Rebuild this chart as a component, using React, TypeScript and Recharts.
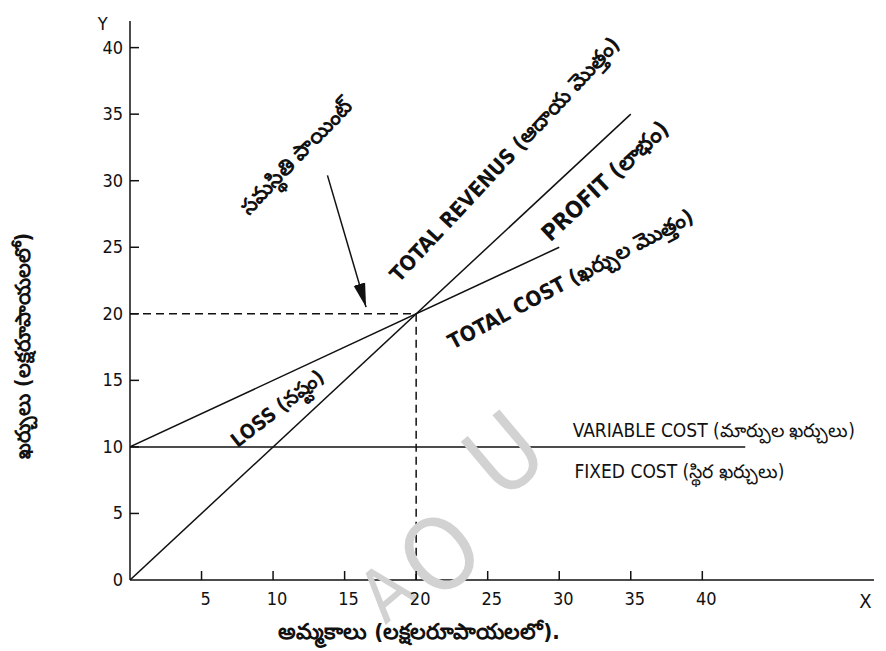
import { ComposedChart, Line, ReferenceDot, XAxis, YAxis } from "recharts";

// break-even chart, values in lakhs of rupees
const xTicks = [5, 10, 15, 20, 25, 30, 35, 40];
const yTicks = [0, 5, 10, 15, 20, 25, 30, 35, 40];

const totalRevenue = [
  { x: 0, y: 0 },
  { x: 35, y: 35 },
];
const totalCost = [
  { x: 0, y: 10 },
  { x: 30, y: 25 },
];
const fixedCost = [
  { x: 0, y: 10 },
  { x: 43, y: 10 },
];
const bepHorizontal = [
  { x: 0, y: 20 },
  { x: 20, y: 20 },
];
const bepVertical = [
  { x: 20, y: 20 },
  { x: 20, y: 0 },
];
const pointer = [
  { x: 13.8, y: 30.4 },
  { x: 16.5, y: 20.5 },
];

const FONT = '"Liberation Sans Narrow", "Arial Narrow", "DejaVu Sans Condensed", sans-serif';
const INK = "#111";

function XTick(props: any) {
  const { x, y, payload } = props;
  return (
    <g>
      <line x1={x} y1={y} x2={x} y2={y - 9} stroke={INK} strokeWidth={1.5} />
      <text x={x + 4} y={y + 25} textAnchor="middle" fontSize={18} fontFamily={FONT} fill={INK}>
        {payload.value}
      </text>
    </g>
  );
}

function YTick(props: any) {
  const { x, y, payload } = props;
  return (
    <g>
      {payload.value !== 0 && <line x1={x} y1={y} x2={x + 9} y2={y} stroke={INK} strokeWidth={1.5} />}
      <text x={x - 7} y={y + 6} textAnchor="end" fontSize={18} fontFamily={FONT} fill={INK}>
        {payload.value}
      </text>
    </g>
  );
}

// text placed at a data coordinate
function note(
  key: string,
  x: number,
  y: number,
  text: string,
  angle: number,
  size: number,
  bold = true,
  fill = INK,
) {
  return (
    <ReferenceDot
      key={key}
      x={x}
      y={y}
      r={0}
      ifOverflow="visible"
      shape={(p: any) => (
        <text
          x={p.cx}
          y={p.cy}
          transform={`rotate(${angle} ${p.cx} ${p.cy})`}
          textAnchor="middle"
          dominantBaseline="central"
          fontSize={size}
          fontWeight={bold ? "bold" : "normal"}
          fontFamily={FONT}
          fill={fill}
        >
          {text}
        </text>
      )}
    />
  );
}

export default function App() {
  return (
    <div style={{ background: "#fff" }}>
      <ComposedChart width={870} height={643} margin={{ top: 13, right: 4, bottom: 41, left: 0 }}>
        <defs>
          <marker
            id="arrowHead"
            viewBox="0 0 20 10"
            refX="20"
            refY="5"
            markerWidth="24"
            markerHeight="13"
            markerUnits="userSpaceOnUse"
            orient="auto"
          >
            <path d="M0,0 L20,5 L0,10 z" fill={INK} />
          </marker>
        </defs>
        <XAxis
          dataKey="x"
          type="number"
          domain={[0, 52]}
          ticks={xTicks}
          allowDataOverflow
          height={30}
          tickSize={0}
          tickMargin={0}
          tickLine={false}
          axisLine={{ stroke: INK, strokeWidth: 1.5 }}
          tick={<XTick />}
        />
        <YAxis
          dataKey="y"
          type="number"
          domain={[0, 42]}
          ticks={yTicks}
          allowDataOverflow
          width={122}
          tickSize={0}
          tickMargin={0}
          tickLine={false}
          axisLine={{ stroke: INK, strokeWidth: 1.5 }}
          tick={<YTick />}
        />
        {note("wm-a", 17.9, -0.9, "A", -40, 72, false, "#d2d2d2")}
        {note("wm-o", 21.7, 1.9, "O", -40, 100, false, "#d2d2d2")}
        {note("wm-u", 26.2, 9.4, "U", -40, 100, false, "#d2d2d2")}
        <Line data={totalRevenue} dataKey="y" stroke={INK} strokeWidth={1.5} dot={false} isAnimationActive={false} />
        <Line data={totalCost} dataKey="y" stroke={INK} strokeWidth={1.5} dot={false} isAnimationActive={false} />
        <Line data={fixedCost} dataKey="y" stroke={INK} strokeWidth={1.5} dot={false} isAnimationActive={false} />
        <Line
          data={bepHorizontal}
          dataKey="y"
          stroke={INK}
          strokeWidth={1.5}
          strokeDasharray="8 5"
          dot={false}
          isAnimationActive={false}
        />
        <Line
          data={bepVertical}
          dataKey="y"
          stroke={INK}
          strokeWidth={1.5}
          strokeDasharray="8 5"
          dot={false}
          isAnimationActive={false}
        />
        <Line
          data={pointer}
          dataKey="y"
          stroke={INK}
          strokeWidth={1.5}
          markerEnd="url(#arrowHead)"
          dot={false}
          isAnimationActive={false}
        />
        {note("bep", 11.6, 31.8, "సమస్థితి పాయింట్", -46, 21)}
        {note("rev", 26.2, 31.6, "TOTAL REVENUS (ఆదాయ మొత్తం)", -47, 21)}
        {note("profit", 33.2, 30.0, "PROFIT (లాభం)", -43, 23)}
        {note("tc", 30.8, 22.6, "TOTAL COST (ఖర్చుల మొత్తం)", -28, 21)}
        {note("loss", 10.3, 12.9, "LOSS (నష్టం)", -38, 20)}
        {note("vc", 40.8, 11.3, "VARIABLE COST (మార్పుల ఖర్చులు)", 0, 19, false)}
        {note("fc", 38.4, 8.2, "FIXED COST (స్థిర ఖర్చులు)", 0, 19, false)}
        {note("ylab", -7.45, 17.6, "ఖర్చులు (లక్షరూపాయలలో)", -90, 21)}
        {note("xlab", 20.2, -3.9, "అమ్మకాలు (లక్షలరూపాయలలో).", 0, 22)}
        {note("yname", -1.9, 41.8, "Y", 0, 18, false)}
        {note("xname", 51.4, -1.6, "X", 0, 20, false)}
      </ComposedChart>
    </div>
  );
}
